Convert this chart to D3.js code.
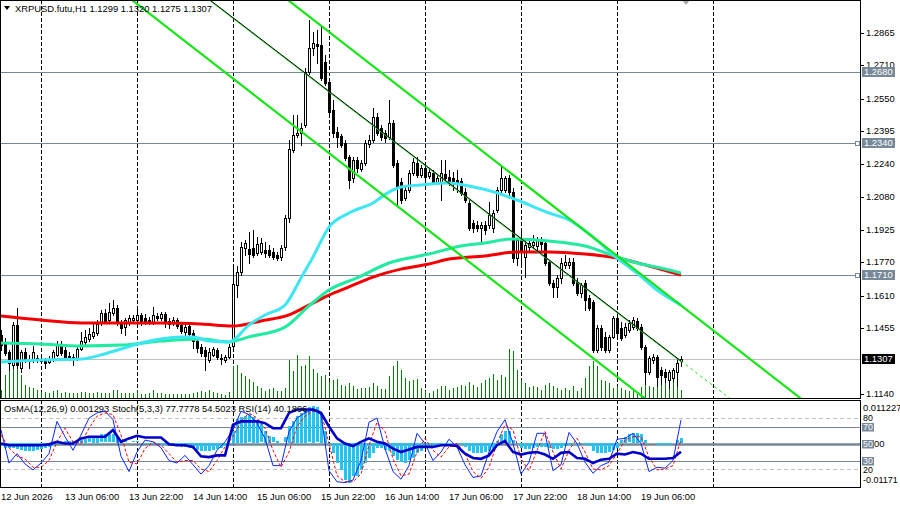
<!DOCTYPE html>
<html>
<head>
<meta charset="utf-8">
<script src="https://cdn.jsdelivr.net/npm/d3@7"></script>
<style>
  html, body { margin: 0; padding: 0; background: #fff; }
  svg { display: block; }
  text { font-family: "Liberation Sans", Arial, sans-serif; font-size: 9.4px; fill: #000; }
</style>
</head>
<body>
<div id="chart"></div>
<script>
// ---- values ----
const symbol = "XRPUSD.futu,H1";
const firstBar = new Date(Date.UTC(2026, 5, 12, 14)); // 12 Jun 2026 14:00, one bar per hour

const open = [
  1.1422,1.1384,1.1341,1.1279,1.1470,1.1264,1.1341,1.1307,1.1303,1.1312,
  1.1303,1.1303,1.1293,1.1303,1.1327,1.1374,1.1350,1.1322,1.1317,1.1312,
  1.1355,1.1389,1.1403,1.1417,1.1432,1.1484,1.1527,1.1494,1.1527,1.1551,
  1.1484,1.1460,1.1484,1.1494,1.1494,1.1518,1.1503,1.1494,1.1484,1.1513,
  1.1503,1.1522,1.1489,1.1480,1.1494,1.1470,1.1436,1.1465,1.1432,1.1393,
  1.1365,1.1350,1.1303,1.1327,1.1350,1.1312,1.1303,1.1317,1.1370,1.1661,
  1.1723,1.1838,1.1833,1.1838,1.1814,1.1819,1.1828,1.1828,1.1819,1.1804,
  1.1795,1.1843,1.1981,1.2306,1.2378,1.2387,1.2426,1.2679,1.2793,1.2813,
  1.2808,1.2726,1.2631,1.2497,1.2392,1.2373,1.2340,1.2273,1.2172,1.2258,
  1.2215,1.2244,1.2335,1.2354,1.2464,1.2411,1.2387,1.2368,1.2435,1.2244,
  1.2153,1.2077,1.2115,1.2196,1.2244,1.2187,1.2220,1.2182,1.2196,1.2153,
  1.2153,1.2191,1.2177,1.2172,1.2163,1.2158,1.2105,1.2053,1.1957,1.1948,
  1.1933,1.1948,1.1948,1.1933,1.2019,1.2115,1.2115,1.2172,1.2105,1.1790,
  1.1876,1.1795,1.1843,1.1852,1.1847,1.1876,1.1862,1.1771,1.1671,1.1652,
  1.1695,1.1757,1.1757,1.1771,1.1675,1.1623,1.1671,1.1599,1.1580,1.1350,
  1.1456,1.1413,1.1350,1.1413,1.1503,1.1456,1.1422,1.1446,1.1460,1.1489,
  1.1460,1.1365,1.1245,1.1303,1.1317,1.1255,1.1245,1.1207,1.1217,1.1245,1.1299
];
const high = [
  1.1446,1.1408,1.1350,1.1484,1.1551,1.1350,1.1360,1.1327,1.1370,1.1327,
  1.1322,1.1312,1.1322,1.1350,1.1393,1.1393,1.1365,1.1341,1.1331,1.1370,
  1.1436,1.1446,1.1456,1.1475,1.1494,1.1542,1.1546,1.1575,1.1589,1.1565,
  1.1494,1.1503,1.1518,1.1518,1.1556,1.1527,1.1522,1.1508,1.1556,1.1527,
  1.1532,1.1532,1.1503,1.1508,1.1503,1.1484,1.1470,1.1480,1.1446,1.1413,
  1.1379,1.1365,1.1360,1.1365,1.1360,1.1331,1.1327,1.1379,1.1742,1.1752,
  1.1866,1.1876,1.1914,1.1924,1.1890,1.1886,1.1866,1.1852,1.1838,1.1819,
  1.1852,1.1995,1.2354,1.2473,1.2473,1.2435,1.2698,1.2927,1.2870,1.2879,
  1.2903,1.2760,1.2641,1.2545,1.2416,1.2383,1.2354,1.2282,1.2273,1.2273,
  1.2258,1.2354,1.2378,1.2507,1.2483,1.2426,1.2402,1.2545,1.2449,1.2258,
  1.2172,1.2134,1.2210,1.2268,1.2273,1.2234,1.2234,1.2220,1.2210,1.2187,
  1.2258,1.2258,1.2210,1.2201,1.2210,1.2172,1.2125,1.2067,1.1972,1.1967,
  1.1962,1.1967,1.2058,1.2019,1.2129,1.2225,1.2182,1.2187,1.2125,1.1886,
  1.1914,1.1876,1.1876,1.1900,1.1890,1.1890,1.1876,1.1780,1.1685,1.1709,
  1.1790,1.1804,1.1790,1.1790,1.1695,1.1671,1.1685,1.1613,1.1589,1.1470,
  1.1470,1.1436,1.1422,1.1513,1.1518,1.1484,1.1480,1.1494,1.1508,1.1503,
  1.1475,1.1374,1.1322,1.1331,1.1327,1.1269,1.1260,1.1255,1.1264,1.1312,1.1320
];
const low = [
  1.1350,1.1327,1.1255,1.1264,1.1264,1.1245,1.1293,1.1264,1.1293,1.1293,
  1.1288,1.1264,1.1288,1.1298,1.1322,1.1327,1.1303,1.1303,1.1279,1.1303,
  1.1350,1.1379,1.1393,1.1408,1.1422,1.1470,1.1480,1.1484,1.1518,1.1470,
  1.1432,1.1422,1.1470,1.1484,1.1484,1.1470,1.1475,1.1475,1.1475,1.1494,
  1.1494,1.1460,1.1456,1.1470,1.1456,1.1432,1.1422,1.1417,1.1360,1.1341,
  1.1322,1.1255,1.1293,1.1322,1.1307,1.1284,1.1293,1.1312,1.1350,1.1604,
  1.1709,1.1804,1.1766,1.1795,1.1804,1.1809,1.1795,1.1795,1.1785,1.1780,
  1.1780,1.1828,1.1962,1.2296,1.2368,1.2330,1.2416,1.2669,1.2760,1.2722,
  1.2641,1.2617,1.2478,1.2368,1.2320,1.2320,1.2258,1.2125,1.2153,1.2201,
  1.2206,1.2234,1.2320,1.2344,1.2378,1.2354,1.2344,1.2359,1.2225,1.2043,
  1.2053,1.2067,1.2105,1.2187,1.2177,1.2177,1.2168,1.2172,1.2144,1.2144,
  1.2067,1.2148,1.2139,1.2115,1.2105,1.2091,1.2058,1.1924,1.1914,1.1919,
  1.1862,1.1905,1.1933,1.1914,1.2010,1.2105,1.2105,1.2077,1.1771,1.1757,
  1.1757,1.1699,1.1819,1.1838,1.1828,1.1828,1.1757,1.1661,1.1604,1.1604,
  1.1671,1.1742,1.1742,1.1661,1.1613,1.1604,1.1542,1.1542,1.1341,1.1341,
  1.1350,1.1341,1.1341,1.1408,1.1422,1.1398,1.1413,1.1436,1.1451,1.1446,
  1.1355,1.1188,1.1236,1.1288,1.1178,1.1188,1.1198,1.1169,1.1202,1.1178,1.1275
];
const close = [
  1.1374,1.1336,1.1288,1.1470,1.1279,1.1341,1.1303,1.1298,1.1341,1.1303,
  1.1298,1.1288,1.1307,1.1341,1.1374,1.1336,1.1317,1.1317,1.1312,1.1355,
  1.1393,1.1413,1.1427,1.1436,1.1475,1.1527,1.1489,1.1532,1.1551,1.1480,
  1.1456,1.1494,1.1503,1.1503,1.1518,1.1484,1.1484,1.1484,1.1518,1.1503,
  1.1522,1.1484,1.1475,1.1494,1.1465,1.1441,1.1460,1.1427,1.1393,1.1360,
  1.1336,1.1322,1.1341,1.1355,1.1317,1.1307,1.1317,1.1365,1.1666,1.1723,
  1.1843,1.1862,1.1809,1.1804,1.1857,1.1862,1.1814,1.1804,1.1795,1.1790,
  1.1838,1.1981,1.2311,1.2378,1.2387,1.2411,1.2679,1.2793,1.2817,1.2803,
  1.2650,1.2626,1.2488,1.2387,1.2368,1.2330,1.2268,1.2163,1.2258,1.2220,
  1.2244,1.2340,1.2354,1.2464,1.2387,1.2368,1.2363,1.2435,1.2234,1.2129,
  1.2067,1.2115,1.2196,1.2249,1.2187,1.2220,1.2177,1.2201,1.2153,1.2172,
  1.2196,1.2172,1.2158,1.2158,1.2148,1.2101,1.2067,1.1933,1.1933,1.1933,
  1.1948,1.1924,1.1995,1.2005,1.2115,1.2172,1.2172,1.2105,1.1790,1.1876,
  1.1828,1.1852,1.1862,1.1866,1.1876,1.1857,1.1766,1.1671,1.1652,1.1695,
  1.1766,1.1771,1.1771,1.1671,1.1623,1.1661,1.1589,1.1551,1.1350,1.1456,
  1.1365,1.1350,1.1413,1.1503,1.1432,1.1408,1.1460,1.1480,1.1494,1.1456,
  1.1365,1.1245,1.1312,1.1317,1.1222,1.1231,1.1222,1.1245,1.1255,1.1288,1.1307
];
const volume = [
  400,1150,1550,1850,1650,1150,650,550,500,400,
  300,300,250,350,400,250,300,250,250,250,
  300,300,250,250,300,250,250,250,400,400,
  250,250,250,250,400,200,200,250,400,250,
  250,200,200,200,200,200,200,200,250,300,
  350,300,400,300,250,200,150,300,1600,1650,
  1250,1100,950,800,600,500,350,450,500,350,
  350,500,1900,1350,2150,1600,1650,2100,1450,1250,
  1100,1150,800,900,950,650,600,750,600,450,
  500,500,550,750,600,450,450,1100,1600,1850,
  1400,1000,850,900,950,500,350,250,350,450,
  600,600,400,500,550,650,600,800,650,550,
  750,900,1000,1200,900,1150,1050,2450,2350,1400,
  900,750,550,600,550,400,650,750,600,500,
  400,500,400,600,350,500,1000,1600,1850,1600,
  900,850,750,500,600,500,400,350,350,250,
  550,850,600,550,1000,750,900,600,900,750,400
];

// moving averages, read at a few bars (bar index, price)
const maSlowBars = [0,10,20,30,40,50,58,65,72,77,82,87,93,100,107,112,121,129,137,146,154,162,170];
const maSlow = [1.1513,1.1494,1.1480,1.1480,1.1480,1.1475,1.1465,1.1489,1.1518,1.1565,1.1613,1.1652,1.1699,1.1737,1.1761,1.1785,1.1800,1.1819,1.1819,1.1809,1.1790,1.1752,1.1709];
const maMidBars = [0,10,20,30,40,50,57,62,71,77,82,89,97,107,115,121,128,137,146,154,159,165,170];
const maMid = [1.1384,1.1379,1.1370,1.1374,1.1393,1.1403,1.1389,1.1413,1.1460,1.1561,1.1637,1.1695,1.1766,1.1809,1.1847,1.1862,1.1881,1.1871,1.1847,1.1795,1.1766,1.1742,1.1718];
const maFastBars = [0,10,20,25,30,35,40,45,48,52,57,62,66,71,75,78,82,87,93,97,100,105,112,117,124,129,137,142,148,154,159,164,170];
const maFast = [1.1293,1.1303,1.1307,1.1327,1.1355,1.1384,1.1403,1.1413,1.1413,1.1393,1.1389,1.1470,1.1518,1.1565,1.1695,1.1795,1.1938,1.2005,1.2053,1.2105,1.2129,1.2139,1.2148,1.2134,1.2101,1.2067,1.2005,1.1972,1.1890,1.1790,1.1718,1.1637,1.1565];

// channel drawn on the chart: two anchors each (bar index, price)
const channelUpper = [[80, 1.2900], [160, 1.1712]];
const channelLower = [[40, 1.2915], [150, 1.1282]];
const channelMid = [[60, 1.2909], [170, 1.1298]];

const levels = [1.2680, 1.2340, 1.1710];
const bid = 1.1307;

// 1.1300 sits under the bid box in the picture, so it is not listed
const priceTicks = ["1.2865","1.2710","1.2550","1.2395","1.2240","1.2080","1.1925","1.1770","1.1610","1.1455","1.1140"];
const timeLabelBars = [0,16,32,48,64,80,96,112,128,144,160];
const timeLabels = ["12 Jun 2026","13 Jun 06:00","13 Jun 22:00","14 Jun 14:00","15 Jun 06:00","15 Jun 22:00","16 Jun 14:00","17 Jun 06:00","17 Jun 22:00","18 Jun 14:00","19 Jun 06:00"];

// sub window
const osma = [
  -0.0008,-0.0014,-0.0014,-0.0014,-0.0016,-0.0019,-0.0022,-0.0022,-0.0022,-0.0019,
  -0.0016,-0.0014,-0.0011,-0.0008,-0.0003,0,0.0003,0.0003,0.0005,0.0005,
  0.0008,0.0011,0.0014,0.0016,0.0019,0.0022,0.0022,0.0022,0.0022,0.0016,
  0.0008,0.0003,0,0.0003,0.0003,0,-0.0003,-0.0003,-0.0003,-0.0003,
  -0.0005,-0.0005,-0.0005,-0.0008,-0.0008,-0.0011,-0.0011,-0.0014,-0.0016,-0.0019,
  -0.0022,-0.0022,-0.0022,-0.0019,-0.0016,-0.0014,-0.0008,-0.0003,0.0032,0.0065,
  0.0070,0.0073,0.0076,0.0070,0.0062,0.0049,0.0032,0.0019,0.0014,0.0005,
  0,0.0014,0.0046,0.0059,0.0073,0.0081,0.0089,0.0095,0.0100,0.0095,
  0.0081,0.0032,-0.0005,-0.0027,-0.0054,-0.0073,-0.0100,-0.0108,-0.0089,-0.0089,
  -0.0073,-0.0054,-0.0041,-0.0027,-0.0014,-0.0014,-0.0019,-0.0022,-0.0035,-0.0046,
  -0.0051,-0.0054,-0.0046,-0.0041,-0.0027,-0.0022,-0.0014,-0.0008,-0.0005,-0.0008,
  -0.0005,-0.0003,-0.0003,0,-0.0003,-0.0005,-0.0011,-0.0022,-0.0027,-0.0027,
  -0.0027,-0.0024,-0.0022,-0.0016,0.0005,0.0022,0.0032,0.0032,0.0008,-0.0005,
  -0.0014,-0.0016,-0.0016,-0.0014,-0.0011,-0.0011,-0.0011,-0.0014,-0.0016,-0.0016,
  -0.0014,-0.0008,-0.0005,-0.0005,-0.0005,-0.0005,-0.0005,-0.0008,-0.0022,-0.0027,
  -0.0027,-0.0027,-0.0024,-0.0019,-0.0014,0.0008,0.0016,0.0022,0.0027,0.0027,
  0.0022,0.0008,0,0,-0.0005,-0.0005,-0.0005,-0.0005,0,0.0008,0.001293
];
// stochastic and RSI read every second bar
const oscStep = 2;
const stochMain = [
  66,27,38,26,19,27,38,76,58,42, 60,80,86,88,78,35,17,40,54,52,
  45,30,27,36,25,14,24,42,52,66, 88,84,74,56,24,24,64,80,86,90,
  84,18,5,4,7,30,75,80,44,17, 8,24,62,50,30,40,55,46,25,10,
  12,40,64,78,50,14,28,62,62,18, 25,63,50,28,15,24,28,55,56,62,
  50,17,22,21,30,77.7778
];
const stochSignal = [
  60,45,35,32,22,22,30,52,68,52, 50,68,82,86,84,60,28,26,44,52,
  48,38,28,30,30,20,17,30,46,58, 76,86,80,68,42,22,40,70,82,88,
  88,50,12,5,5,14,48,75,64,32, 12,14,40,56,42,34,46,50,38,17,
  9,22,50,72,66,32,18,42,64,40, 20,42,56,40,20,19,24,38,54,58,
  58,34,19,20,24,54.5023
];
const rsi = [
  50,48,48,48,48,48,49,52,50,50, 56,58,58,58,66,52,56,59,57,57,
  57,49,48,48,46,35,34,36,36,72, 76,76,76,74,68,68,86,90,90,90,
  86,70,56,50,47,52,56,52,50,44, 40,43,46,46,46,48,48,47,38,33,
  32,36,48,53,40,37,39,40,37,32, 39,40,33,32,27,31,32,38,37,40,
  38,32,32,32,33,40.1896
];
const osmaRange = [-0.01171, 0.011227];
const stochLevels = [80, 20];
const rsiLevels = [70, 50, 30];

// ---- layout ----
const W = 900, H = 507;
const plotR = 860;
const mainTop = 0, mainBot = 398;
const indTop = 400, indBot = 487;

const svg = d3.select("#chart").append("svg").attr("width", W).attr("height", H);
svg.append("rect").attr("width", W).attr("height", H).attr("fill", "#fff");

const defs = svg.append("defs");
defs.append("clipPath").attr("id", "clipMain").append("rect")
  .attr("x", 0).attr("y", mainTop).attr("width", plotR).attr("height", mainBot - mainTop);
defs.append("clipPath").attr("id", "clipInd").append("rect")
  .attr("x", 0).attr("y", indTop).attr("width", plotR).attr("height", indBot - indTop);

const times = close.map(function (d, i) { return d3.utcHour.offset(firstBar, i); });
const lastTime = times[times.length - 1];

// one bar every 4 px
var x = d3.scaleUtc().domain([firstBar, lastTime]).range([1, 1 + 4 * (times.length - 1)]);
var y = d3.scaleLinear().domain([1.11211, 1.30227]).range([mainBot, mainTop]);
var vy = d3.scaleLinear().domain([0, 2550]).range([mainBot, mainBot - 51]);
var oy = d3.scaleLinear().domain(osmaRange).range([indBot - 1, indTop + 1]);
var sy = d3.scaleLinear().domain([0, 100]).range([indBot - 1, indTop + 1]);

// plain hyphen instead of the unicode minus d3 uses
function fmt(spec) {
  var f = d3.format(spec);
  return function (v) { return f(v).replace("\u2212", "-"); };
}

function bx(i) { return Math.round(x(times[i])); }
function py(p) { return Math.round(y(p)); }

const main = svg.append("g").attr("clip-path", "url(#clipMain)");
const ind = svg.append("g").attr("clip-path", "url(#clipInd)");

// dashed day grid
const days = d3.utcDay.range(d3.utcDay.ceil(firstBar), d3.utcDay.offset(d3.utcDay.floor(lastTime), 2));
[[main, mainTop, mainBot], [ind, indTop, indBot]].forEach(function (p) {
  p[0].selectAll(null).data(days).enter().append("line")
    .attr("x1", function (d) { return Math.round(x(d)) + 0.5; })
    .attr("x2", function (d) { return Math.round(x(d)) + 0.5; })
    .attr("y1", p[1]).attr("y2", p[2])
    .attr("stroke", "#000").attr("stroke-dasharray", "4,2");
});

// horizontal levels and bid line
main.selectAll(null).data(levels).enter().append("line")
  .attr("x1", 0).attr("x2", plotR)
  .attr("y1", function (d) { return py(d) + 0.5; })
  .attr("y2", function (d) { return py(d) + 0.5; })
  .attr("stroke", "#778899");
main.append("line").attr("x1", 0).attr("x2", plotR)
  .attr("y1", py(bid) + 0.5).attr("y2", py(bid) + 0.5).attr("stroke", "#c0c0c0");

// volumes
main.selectAll(null).data(volume).enter().append("line")
  .attr("x1", function (d, i) { return bx(i) + 0.5; })
  .attr("x2", function (d, i) { return bx(i) + 0.5; })
  .attr("y1", mainBot).attr("y2", function (d) { return Math.round(vy(d)); })
  .attr("stroke", "#008000");

// candles
const candles = main.append("g").attr("shape-rendering", "crispEdges");
close.forEach(function (c, i) {
  const xc = bx(i), o = open[i];
  candles.append("line")
    .attr("x1", xc + 0.5).attr("x2", xc + 0.5)
    .attr("y1", py(high[i])).attr("y2", py(low[i]) + 1)
    .attr("stroke", "#000");
  const top = py(Math.max(o, c)), bot = py(Math.min(o, c));
  if (c >= o) {
    candles.append("rect")
      .attr("x", xc - 0.5).attr("y", top + 0.5)
      .attr("width", 2).attr("height", Math.max(bot - top, 1))
      .attr("fill", "#fff").attr("stroke", "#000");
  } else {
    candles.append("rect")
      .attr("x", xc - 1).attr("y", top)
      .attr("width", 3).attr("height", Math.max(bot - top + 1, 1))
      .attr("fill", "#000");
  }
});

// moving averages
function maLine(bars, vals) {
  return d3.line()
    .x(function (d, k) { return x(times[bars[k]]); })
    .y(function (d) { return y(d); })
    .curve(d3.curveMonotoneX)(vals);
}
main.append("path").attr("d", maLine(maSlowBars, maSlow))
  .attr("fill", "none").attr("stroke", "#f40000").attr("stroke-width", 3);
main.append("path").attr("d", maLine(maMidBars, maMid))
  .attr("fill", "none").attr("stroke", "#22eaa0").attr("stroke-width", 3);
main.append("path").attr("d", maLine(maFastBars, maFast))
  .attr("fill", "none").attr("stroke", "#3ee6f4").attr("stroke-width", 3);

// channel lines, extended across the panel
function chanPoint(anchors, px) {
  const x1 = x(times[anchors[0][0]]), y1 = y(anchors[0][1]);
  const x2 = x(times[anchors[1][0]]), y2 = y(anchors[1][1]);
  return [px, y1 + (px - x1) * (y2 - y1) / (x2 - x1)];
}
[channelUpper, channelLower].forEach(function (a) {
  const p0 = chanPoint(a, -20), p1 = chanPoint(a, 900);
  main.append("line").attr("x1", p0[0]).attr("y1", p0[1]).attr("x2", p1[0]).attr("y2", p1[1])
    .attr("stroke", "#16e616").attr("stroke-width", 2.2);
});
const midEnd = chanPoint(channelMid, x(lastTime));
const midStart = chanPoint(channelMid, 150), midFar = chanPoint(channelMid, 900);
main.append("line").attr("x1", midStart[0]).attr("y1", midStart[1] + 0.8)
  .attr("x2", midEnd[0]).attr("y2", midEnd[1] + 0.8)
  .attr("stroke", "#16e616").attr("stroke-width", 1);
main.append("line").attr("x1", midStart[0]).attr("y1", midStart[1])
  .attr("x2", midEnd[0]).attr("y2", midEnd[1])
  .attr("stroke", "#000").attr("stroke-width", 1);
main.append("line").attr("x1", midEnd[0]).attr("y1", midEnd[1])
  .attr("x2", midFar[0]).attr("y2", midFar[1])
  .attr("stroke", "#16e616").attr("stroke-width", 1).attr("stroke-dasharray", "3,3");

// chart shift marker
const shiftX = bx(times.length - 1) + 5;
svg.append("path").attr("d", "M" + (shiftX - 4) + ",0L" + (shiftX + 4) + ",0L" + shiftX + ",5Z")
  .attr("fill", "#a9a9a9");

// level end markers
levels.slice(1).forEach(function (d) {
  svg.append("rect").attr("x", plotR - 4.5).attr("y", py(d) - 1.5)
    .attr("width", 4).attr("height", 4).attr("fill", "#fff").attr("stroke", "#778899");
});

// frames
svg.append("rect").attr("x", 0.5).attr("y", 0.5).attr("width", plotR).attr("height", mainBot)
  .attr("fill", "none").attr("stroke", "#000");
svg.append("rect").attr("x", 0.5).attr("y", indTop + 0.5).attr("width", plotR).attr("height", indBot - indTop)
  .attr("fill", "none").attr("stroke", "#000");

// price axis
const axis = svg.append("g");
priceTicks.forEach(function (t) {
  const yy = py(+t);
  axis.append("line").attr("x1", plotR + 1).attr("x2", plotR + 4)
    .attr("y1", yy + 0.5).attr("y2", yy + 0.5).attr("stroke", "#000");
  axis.append("text").attr("x", plotR + 6).attr("y", yy).attr("dy", "0.35em").text(t);
});
function priceBox(p, fill) {
  const yy = py(p);
  axis.append("rect").attr("x", plotR + 2).attr("y", yy - 5).attr("width", 33).attr("height", 10).attr("fill", fill);
  axis.append("text").attr("x", plotR + 4).attr("y", yy).attr("dy", "0.35em")
    .style("fill", "#fff").text(fmt(".4f")(p));
}
levels.forEach(function (d) { priceBox(d, "#778899"); });
priceBox(bid, "#000");

// title
svg.append("path").attr("d", "M4,6L10,6L7,10Z").attr("fill", "#000");
const last = close.length - 1;
svg.append("text").attr("x", 15).attr("y", 12)
  .text(symbol + "  " + [open[last], high[last], low[last], close[last]].map(fmt(".4f")).join(" "));

// time axis labels
timeLabelBars.forEach(function (b, k) {
  svg.append("text").attr("x", bx(b)).attr("y", 500).text(timeLabels[k]);
});

// ---- sub window ----
stochLevels.forEach(function (v) {
  ind.append("line").attr("x1", 0).attr("x2", plotR)
    .attr("y1", Math.round(sy(v)) + 0.5).attr("y2", Math.round(sy(v)) + 0.5)
    .attr("stroke", "#c0c0c0").attr("stroke-dasharray", "4,3");
});
rsiLevels.forEach(function (v) {
  ind.append("line").attr("x1", 0).attr("x2", plotR)
    .attr("y1", Math.round(sy(v)) + 0.5).attr("y2", Math.round(sy(v)) + 0.5)
    .attr("stroke", "#778899").attr("stroke-width", v === 50 ? 2.5 : 1);
});

ind.append("g").attr("shape-rendering", "crispEdges")
  .selectAll("rect").data(osma).enter().append("rect")
  .attr("x", function (d, i) { return bx(i) - 1; })
  .attr("width", 3)
  .attr("y", function (d) { return Math.round(Math.min(oy(d), oy(0))); })
  .attr("height", function (d) { return Math.max(1, Math.round(Math.abs(oy(d) - oy(0)))); })
  .attr("fill", function (d) { return d === 0 ? "none" : "#22c4f2"; });

function oscLine(vals) {
  return d3.line()
    .x(function (d, k) { return x(times[k * oscStep]); })
    .y(function (d) { return sy(d); })(vals);
}
ind.append("path").attr("d", oscLine(stochMain))
  .attr("fill", "none").attr("stroke", "#0a28ff").attr("stroke-width", 1);
ind.append("path").attr("d", oscLine(stochSignal))
  .attr("fill", "none").attr("stroke", "#ff0000").attr("stroke-width", 1).attr("stroke-dasharray", "3,2");
ind.append("path").attr("d", oscLine(rsi))
  .attr("fill", "none").attr("stroke", "#0000c8").attr("stroke-width", 2.6);

svg.append("text").attr("x", 4).attr("y", 412)
  .text("OsMA(12,26,9) " + fmt(".6f")(osma[osma.length - 1]) +
        "  Stoch(5,3,3) " + fmt(".4f")(stochMain[stochMain.length - 1]) + " " +
        fmt(".4f")(stochSignal[stochSignal.length - 1]) +
        "  RSI(14) " + fmt(".4f")(rsi[rsi.length - 1]));

// sub window scale labels
axis.append("text").attr("x", plotR + 3).attr("y", oy(osmaRange[1]) + 7).attr("dy", "0.35em")
  .text(fmt(".6f")(osmaRange[1]));
axis.append("text").attr("x", plotR + 3).attr("y", oy(osmaRange[0]) - 6).attr("dy", "0.35em")
  .style("font-size", "9px").text(fmt(".5f")(osmaRange[0]));
stochLevels.forEach(function (v) {
  axis.append("text").attr("x", plotR + 3).attr("y", sy(v) + (v > 50 ? -0.5 : 0.8))
    .attr("dy", "0.35em").style("font-size", "8.8px").text(v);
});
rsiLevels.forEach(function (v) {
  const yy = Math.round(sy(v));
  axis.append("rect").attr("x", plotR + 2).attr("y", yy - 4).attr("width", 12).attr("height", 8.5).attr("fill", "#778899");
  axis.append("text").attr("x", plotR + 3).attr("y", yy).attr("dy", "0.33em")
    .style("fill", "#fff").style("font-size", "8.8px").text(v);
});
// tail of the oscillator zero label, showing past the 50 box
axis.append("text").attr("x", plotR + 14).attr("y", sy(50)).attr("dy", "0.35em").text("00");
</script>
</body>
</html>
